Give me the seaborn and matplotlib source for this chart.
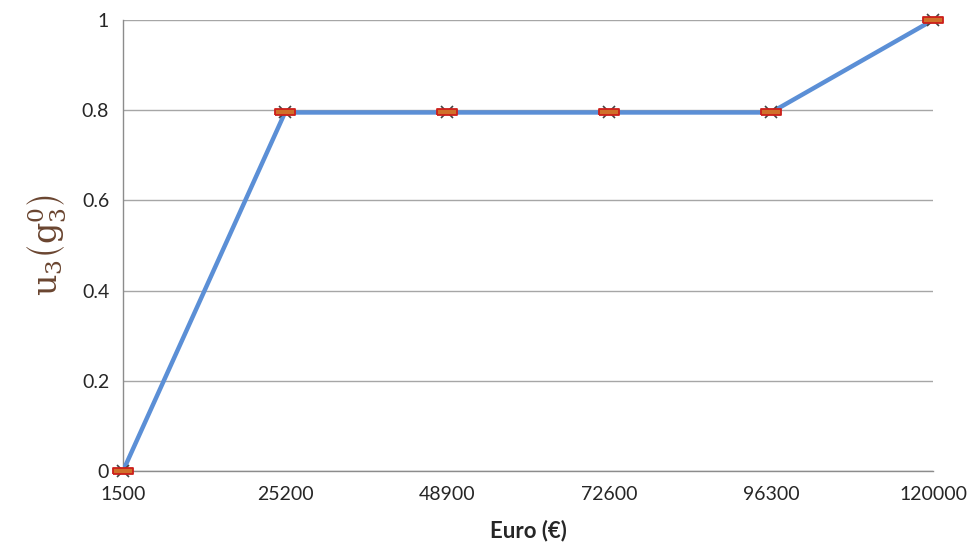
import matplotlib
matplotlib.use("Agg")
import matplotlib.pyplot as plt
import seaborn as sns
import pandas as pd
import numpy as np

euro = [1500, 25200, 48900, 72600, 96300, 120000]
utility = [0.0, 0.795, 0.795, 0.795, 0.795, 1.0]
x_ticks = [1500, 25200, 48900, 72600, 96300, 120000]
y_ticks = [0, 0.2, 0.4, 0.6, 0.8, 1]
y_tick_labels = ["0", "0.2", "0.4", "0.6", "0.8", "1"]

sns.set_theme(style="white")
plt.rcParams['font.family'] = ['Lato', 'DejaVu Sans']
plt.rcParams['mathtext.fontset'] = 'dejavuserif'

df = pd.DataFrame({"Euro": euro, "u": utility})

fig = plt.figure(figsize=(9.71, 5.56), dpi=100)
ax = fig.add_axes([0.1267, 0.1529, 0.9609 - 0.1267, 0.964 - 0.1529])

sns.lineplot(data=df, x="Euro", y="u", ax=ax, color="#5b8fd6", linewidth=3.2, zorder=3)

rect = [(-1, -0.32), (1, -0.32), (1, 0.32), (-1, 0.32), (-1, -0.32)]
ax.plot(euro, utility, linestyle="none", marker="x", markersize=8, markeredgewidth=1.2,
        color="#444444", zorder=4, clip_on=False)
ax.plot(euro, utility, linestyle="none", marker=rect, markersize=14,
        markerfacecolor="#d0702a", markeredgecolor="#cc1f1a", markeredgewidth=1.3, zorder=5,
        clip_on=False)

ax.set_xlim(1500, 120000)
ax.set_ylim(0, 1)
ax.set_xticks(x_ticks)
ax.set_xticklabels([str(t) for t in x_ticks])
ax.set_yticks(y_ticks)
ax.set_yticklabels(y_tick_labels)

ax.grid(axis="y", color="#a6a6a6", linewidth=1.0)
ax.grid(axis="x", visible=False)
ax.set_axisbelow(True)
for s in ["top", "right"]:
    ax.spines[s].set_visible(False)
for s in ["left", "bottom"]:
    ax.spines[s].set_color("#8c8c8c")
    ax.spines[s].set_linewidth(1.0)

ax.tick_params(axis="both", labelsize=14, colors="#262626", length=0)
ax.tick_params(axis="x", pad=11)
ax.tick_params(axis="y", pad=10)

ax.set_xlabel("Euro (€)", fontsize=16, fontweight="bold", color="#262626", labelpad=12)
ax.set_ylabel(r"$\mathrm{u_3}\left(\mathrm{g_3^0}\right)$", fontsize=24, color="#6a4530",
              labelpad=10)

fig.savefig("out.png", dpi=100)
